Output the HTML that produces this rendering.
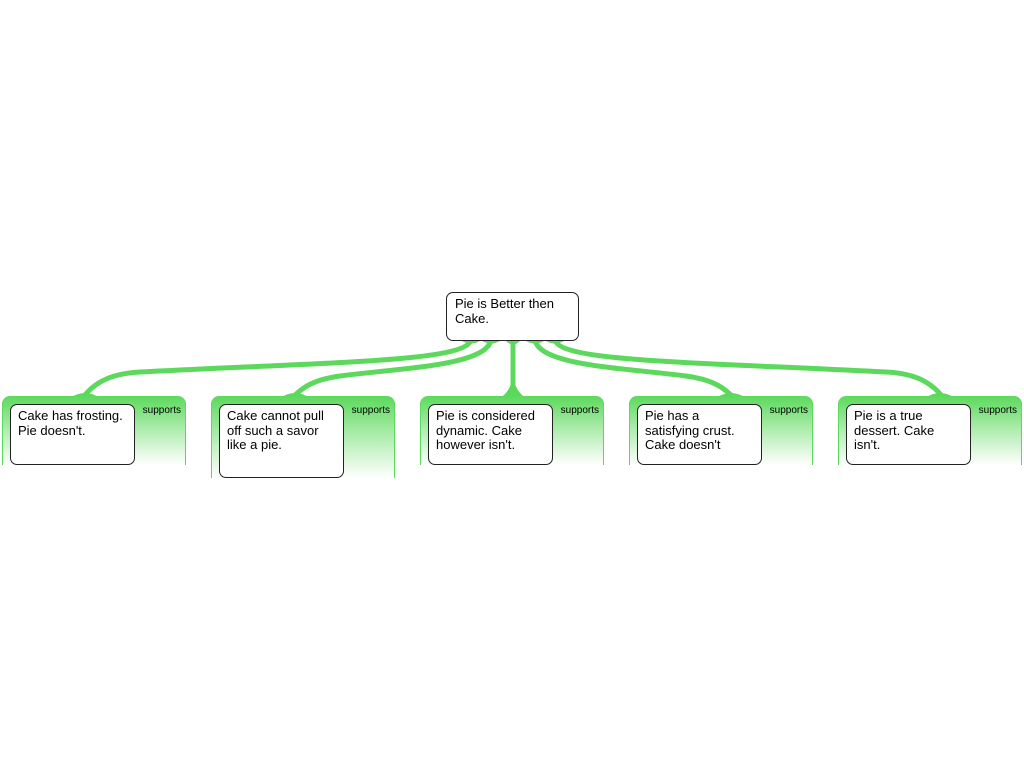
<!DOCTYPE html>
<html><head><style>
body{margin:0;width:1024px;height:768px;background:#fff;position:relative;overflow:hidden;font-family:"Liberation Sans",sans-serif}
.p{position:absolute;top:396px;width:182px;border-left:1px solid #5cd95c;border-right:1px solid #5cd95c;border-radius:8px 8px 0 0;background:linear-gradient(#5cd95c 0%,#a8eba8 45%,#fff 100%)}
.s{position:absolute;right:4px;top:9px;font-size:10px;color:#000}
.c{position:absolute;left:7px;top:8px;width:125px;background:#fff;border:1px solid #222;border-radius:7px;font-size:13px;line-height:14.5px;padding:4px 7px;box-sizing:border-box}
.r{position:absolute;left:446px;top:292px;width:133px;height:49px;background:#fff;border:1px solid #222;border-radius:7px;font-size:13px;line-height:14.5px;padding:4px 8px;box-sizing:border-box}
</style></head><body>
<svg width="1024" height="768" style="position:absolute;left:0;top:0">
<g fill="none" stroke="#5cd95c" stroke-width="5">
<path d="M471,340 C466,362 330,362 140,372 C100,374 90,390 82,398"/>
<path d="M491,340 C486,366 400,368 340,376 C310,380 300,390 292,398"/>
<path d="M513,340 L513,398"/>
<path d="M535,340 C540,366 626,368 686,376 C716,380 726,390 734,398"/>
<path d="M555,340 C560,362 696,362 886,372 C926,374 936,390 944,398"/>
</g>
<g fill="#5cd95c">
<path d="M70,398 Q85,388 100,398Z"/><path d="M280,398 Q295,388 310,398Z"/>
<path d="M500,398 Q513,390 513,370 Q513,390 526,398Z"/>
<path d="M716,398 Q731,388 746,398Z"/><path d="M925,398 Q940,388 955,398Z"/>
<path d="M462,341 Q471,346 480,341Z"/><path d="M482,341 Q491,346 500,341Z"/><path d="M506,341 Q513,348 520,341Z"/><path d="M526,341 Q535,346 544,341Z"/><path d="M546,341 Q555,346 564,341Z"/>
</g>
</svg>
<div class="r">Pie is Better then Cake.</div>
<div class="p" style="left:2px;height:69px"><div class="s">supports</div><div class="c" style="height:61px">Cake has frosting. Pie doesn't.</div></div>
<div class="p" style="left:211px;height:82px"><div class="s">supports</div><div class="c" style="height:74px">Cake cannot pull off such a savor like a pie.</div></div>
<div class="p" style="left:420px;height:69px"><div class="s">supports</div><div class="c" style="height:61px">Pie is considered dynamic. Cake however isn't.</div></div>
<div class="p" style="left:629px;height:69px"><div class="s">supports</div><div class="c" style="height:61px">Pie has a satisfying crust. Cake doesn't</div></div>
<div class="p" style="left:838px;height:69px"><div class="s">supports</div><div class="c" style="height:61px">Pie is a true dessert. Cake isn't.</div></div>
</body></html>
